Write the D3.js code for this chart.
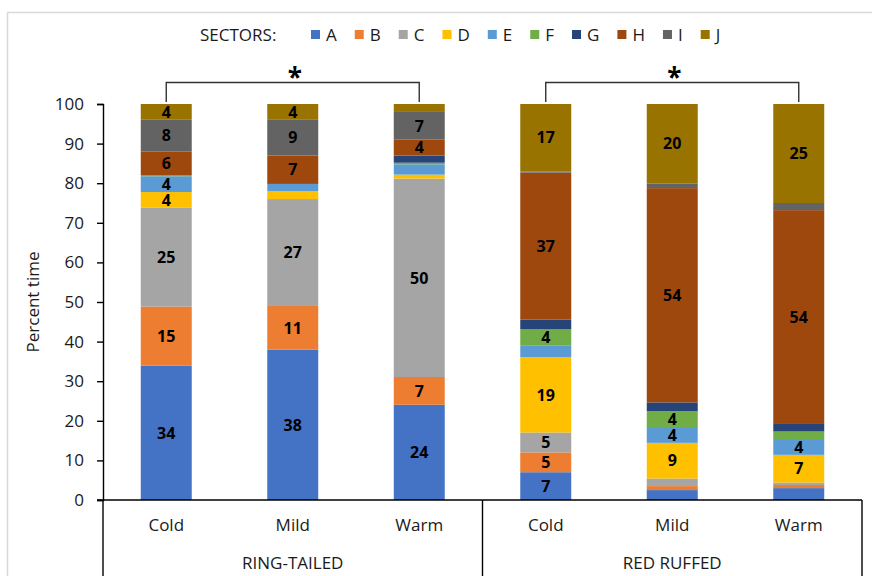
<!DOCTYPE html>
<html>
<head>
<meta charset="utf-8">
<script src="https://cdn.jsdelivr.net/npm/d3@7"></script>
<style>
  html, body { margin: 0; padding: 0; background: #fff; }
  svg { display: block; font-family: "Open Sans", "Noto Sans", sans-serif; }
</style>
</head>
<body>
<svg id="chart" width="872" height="576"></svg>
<script>
// Sectors and their fill colours
const sectors = ["A", "B", "C", "D", "E", "F", "G", "H", "I", "J"];
const sectorColors = ["#4472C4", "#ED7D31", "#A5A5A5", "#FFC000", "#5B9BD5",
                      "#70AD47", "#264478", "#9E480E", "#636363", "#997300"];

// Category hierarchy: species, then temperature condition
const species = ["RING-TAILED", "RED RUFFED"];
const conditions = ["Cold", "Mild", "Warm"];

// Percent time per sector, in order:
// RT Cold, RT Mild, RT Warm, RR Cold, RR Mild, RR Warm
const sectorA = [34, 38, 24, 7, 2.5, 3.0];
const sectorB = [15, 11, 7, 5, 1.0, 0.8];
const sectorC = [25, 27, 50, 5, 1.9, 0.6];
const sectorD = [4, 2.0, 1.0, 19, 9, 7];
const sectorE = [4, 1.8, 2.6, 3.0, 4, 4];
const sectorF = [0.3, 0, 0.4, 4, 4, 1.9];
const sectorG = [0, 0.2, 1.8, 2.5, 2.2, 1.9];
const sectorH = [6, 7, 4, 37, 54, 54];
const sectorI = [8, 9, 7, 0.3, 1.2, 1.8];
const sectorJ = [4, 4, 2.0, 17, 20, 25];

// Y axis ticks
const yTicks = [0, 10, 20, 30, 40, 50, 60, 70, 80, 90, 100];

// Significance brackets: [species index, first condition, last condition]
const brackets = [[0, 0, 2], [1, 0, 2]];

const seriesBySector = [sectorA, sectorB, sectorC, sectorD, sectorE,
                        sectorF, sectorG, sectorH, sectorI, sectorJ];

const rows = [];
species.forEach((s, si) => {
  conditions.forEach((c, ci) => {
    const i = si * conditions.length + ci;
    const row = { key: s + "|" + c, species: s, condition: c };
    sectors.forEach((k, ki) => { row[k] = seriesBySector[ki][i]; });
    rows.push(row);
  });
});

const svg = d3.select("#chart");

const plotLeft = 103, plotRight = 862, plotTop = 104, plotBottom = 500;

const x = d3.scaleBand()
  .domain(rows.map(d => d.key))
  .range([plotLeft, plotRight])
  .paddingInner(0.597)
  .paddingOuter(0.2985);

const y = d3.scaleLinear().domain([0, 100]).range([plotBottom, plotTop]);

const color = d3.scaleOrdinal().domain(sectors).range(sectorColors);

// Outer chart frame (light)
svg.append("path")
  .attr("d", "M7.5,576 V12.5 H872")
  .attr("fill", "none")
  .attr("stroke", "#d9d9d9")
  .attr("stroke-width", 1.5);

// Stacked bars, each column normalised to 100 %
const stacked = d3.stack().keys(sectors).offset(d3.stackOffsetExpand)(rows);

const layers = svg.append("g").selectAll("g")
  .data(stacked)
  .join("g")
  .attr("fill", d => color(d.key));

layers.selectAll("rect")
  .data(d => d)
  .join("rect")
  .attr("x", d => x(d.data.key))
  .attr("width", x.bandwidth())
  .attr("y", d => y(d[1] * 100))
  .attr("height", d => Math.max(0, y(d[0] * 100) - y(d[1] * 100)));

// Value labels for the larger segments
const labelG = svg.append("g")
  .attr("font-weight", "bold")
  .attr("font-size", 16)
  .attr("text-anchor", "middle")
  .attr("fill", "#000");

stacked.forEach(layer => {
  layer.forEach(seg => {
    const v = seg.data[layer.key];
    if (v >= 3.5) {
      labelG.append("text")
        .attr("x", x(seg.data.key) + x.bandwidth() / 2)
        .attr("y", (y(seg[0] * 100) + y(seg[1] * 100)) / 2)
        .attr("dy", "0.36em")
        .text(Math.round(v));
    }
  });
});

// Y axis
const yAxis = svg.append("g")
  .attr("transform", `translate(${plotLeft},0)`)
  .call(d3.axisLeft(y).tickValues(yTicks).tickSize(6).tickPadding(13).tickSizeOuter(6));
yAxis.select(".domain").attr("stroke", "#000").attr("stroke-width", 1.4);
yAxis.selectAll(".tick line").attr("stroke", "#000").attr("stroke-width", 1.4);
yAxis.selectAll(".tick text")
  .attr("font-family", "'Open Sans', sans-serif")
  .attr("font-size", 17)
  .attr("fill", "#1a1a1a");

// Category axis: baseline and group separators
const axisG = svg.append("g").attr("stroke", "#000").attr("stroke-width", 1.4);
axisG.append("line")
  .attr("x1", plotLeft - 6).attr("x2", plotRight)
  .attr("y1", y(0)).attr("y2", y(0));
const groupWidth = (plotRight - plotLeft) / species.length;
d3.range(species.length + 1).forEach(i => {
  const gx = plotLeft + i * groupWidth;
  axisG.append("line")
    .attr("x1", gx).attr("x2", gx)
    .attr("y1", y(0)).attr("y2", 576);
});

// Condition labels
svg.append("g").selectAll("text")
  .data(rows)
  .join("text")
  .attr("x", d => x(d.key) + x.bandwidth() / 2)
  .attr("y", 531)
  .attr("text-anchor", "middle")
  .attr("font-size", 17)
  .attr("fill", "#1a1a1a")
  .text(d => d.condition);

// Species labels
svg.append("g").selectAll("text")
  .data(species)
  .join("text")
  .attr("x", (d, i) => plotLeft + (i + 0.5) * groupWidth)
  .attr("y", 569)
  .attr("text-anchor", "middle")
  .attr("font-size", 17)
  .attr("fill", "#1a1a1a")
  .text(d => d);

// Y axis title
svg.append("text")
  .attr("transform", "translate(39,302) rotate(-90)")
  .attr("text-anchor", "middle")
  .attr("font-size", 17)
  .attr("fill", "#1a1a1a")
  .text("Percent time");

// Significance brackets
brackets.forEach(([si, c0, c1]) => {
  const k0 = species[si] + "|" + conditions[c0];
  const k1 = species[si] + "|" + conditions[c1];
  const x0 = x(k0) + x.bandwidth() / 2;
  const x1 = x(k1) + x.bandwidth() / 2;
  const yb = 82.5, ye = 102;
  svg.append("path")
    .attr("d", `M${x0},${ye} V${yb} H${x1} V${ye}`)
    .attr("fill", "none")
    .attr("stroke", "#333")
    .attr("stroke-width", 1.4);
  svg.append("text")
    .attr("x", (x0 + x1) / 2 + 2)
    .attr("y", 87)
    .attr("text-anchor", "middle")
    .attr("font-size", 26)
    .attr("font-weight", "bold")
    .attr("fill", "#000")
    .text("*");
});

// Legend
const legend = svg.append("g").attr("font-size", 17).attr("fill", "#1a1a1a");
legend.append("text").attr("x", 200).attr("y", 41).text("SECTORS:");
let lx = 311;
sectors.forEach((k, i) => {
  legend.append("rect")
    .attr("x", lx).attr("y", 30)
    .attr("width", 9).attr("height", 9)
    .attr("fill", sectorColors[i]);
  const t = legend.append("text")
    .attr("x", lx + 15).attr("y", 41)
    .text(k);
  lx += 15 + t.node().getComputedTextLength() + 18;
});
</script>
</body>
</html>
